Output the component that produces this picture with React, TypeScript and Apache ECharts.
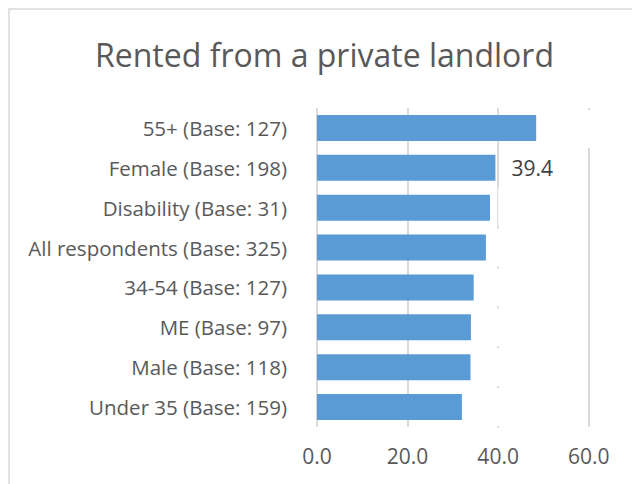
import React, { useEffect, useRef } from "react";
import * as echarts from "echarts";

const TITLE = "Rented from a private landlord";
const categories = [
  "55+ (Base: 127)",
  "Female (Base: 198)",
  "Disability (Base: 31)",
  "All respondents (Base: 325)",
  "34-54 (Base: 127)",
  "ME (Base: 97)",
  "Male (Base: 118)",
  "Under 35 (Base: 159)",
];
const values = [48.4, 39.4, 38.2, 37.3, 34.6, 34.0, 33.9, 32.0];
const labelledCategory = "Female (Base: 198)";
const xTicks = [0, 20, 40, 60];

const FONT = "'Open Sans', sans-serif";
const GRID_COLOR = "#d9d9d9";

export default function App() {
  const ref = useRef<HTMLDivElement>(null);
  useEffect(() => {
    if (!ref.current) return;
    const chart = echarts.init(ref.current, undefined, { renderer: "svg" });
    const baseGraphic: any[] = [
      {
        type: "rect",
        id: "border",
        silent: true,
        z: 0,
        shape: { x: 9, y: 9, width: 800, height: 700 },
        style: { fill: "none", stroke: GRID_COLOR, lineWidth: 1.5 },
      },
      {
        type: "text",
        id: "title",
        x: 324.5,
        y: 54,
        style: {
          text: TITLE,
          font: `32px ${FONT}`,
          fill: "#595959",
          textAlign: "center",
          textVerticalAlign: "middle",
        },
      },
    ];
    chart.setOption({
      animation: false,
      backgroundColor: "#ffffff",
      graphic: baseGraphic,
      grid: { left: 317, right: 43.3, top: 108, bottom: 57, containLabel: false },
      xAxis: {
        type: "value",
        min: xTicks[0],
        max: xTicks[xTicks.length - 1],
        interval: xTicks[1] - xTicks[0],
        axisLine: { show: false },
        axisTick: { show: false },
        splitLine: { show: true, lineStyle: { color: GRID_COLOR, width: 2 } },
        axisLabel: {
          formatter: (v: number) => v.toFixed(1),
          fontFamily: FONT,
          fontSize: 21,
          color: "#595959",
          margin: 18,
        },
      },
      yAxis: {
        type: "category",
        inverse: true,
        data: categories,
        axisLine: { show: false },
        axisTick: { show: false },
        splitLine: { show: false },
        axisLabel: {
          fontFamily: FONT,
          fontSize: 20.5,
          color: "#595959",
          margin: 30,
        },
      },
      series: [
        {
          type: "bar",
          barCategoryGap: "35%",
          itemStyle: { color: "#5b9bd5" },
          data: values.map((v, i) =>
            categories[i] === labelledCategory
              ? {
                  value: v,
                  label: {
                    show: true,
                    position: "right",
                    distance: 16,
                    formatter: (p: any) => Number(p.value).toFixed(1),
                    fontFamily: FONT,
                    fontSize: 21,
                    color: "#404040",
                  },
                }
              : v
          ),
        },
      ],
    });

    // The reference's data-label box hides parts of the 40 and 60 gridlines.
    const x40 = chart.convertToPixel({ xAxisIndex: 0 }, xTicks[2]) as number;
    const x60 = chart.convertToPixel({ xAxisIndex: 0 }, xTicks[3]) as number;
    const c0 = chart.convertToPixel({ yAxisIndex: 0 }, categories[0]) as number;
    const c1 = chart.convertToPixel({ yAxisIndex: 0 }, categories[1]) as number;
    const band = c1 - c0;
    const boundary = (k: number) => c0 - band / 2 + k * band;
    const n = categories.length;
    const extra: any[] = [
      {
        type: "rect",
        id: "cover40",
        silent: true,
        z: 5,
        shape: { x: x40 - 2, y: boundary(2), width: 4, height: boundary(n) - boundary(2) + 1 },
        style: { fill: "#ffffff" },
      },
      {
        type: "line",
        id: "thin40",
        silent: true,
        z: 6,
        shape: { x1: x40 - 0.5, y1: boundary(2), x2: x40 - 0.5, y2: boundary(3) },
        style: { stroke: GRID_COLOR, lineWidth: 1 },
      },
      {
        type: "rect",
        id: "cover60",
        silent: true,
        z: 5,
        shape: { x: x60 - 2, y: boundary(0) + 2, width: 4, height: boundary(1) - boundary(0) - 2 },
        style: { fill: "#ffffff" },
      },
    ];
    for (let k = 3; k <= n; k++) {
      extra.push({
        type: "rect",
        id: "tick40_" + k,
        silent: true,
        z: 6,
        shape: { x: x40 - 1, y: boundary(k) - 1, width: 2, height: 2 },
        style: { fill: GRID_COLOR },
      });
    }
    chart.setOption({ graphic: baseGraphic.concat(extra) });
    return () => chart.dispose();
  }, []);
  return (
    <div
      ref={ref}
      style={{ position: "fixed", left: 0, top: 0, width: 632, height: 484 }}
    />
  );
}
